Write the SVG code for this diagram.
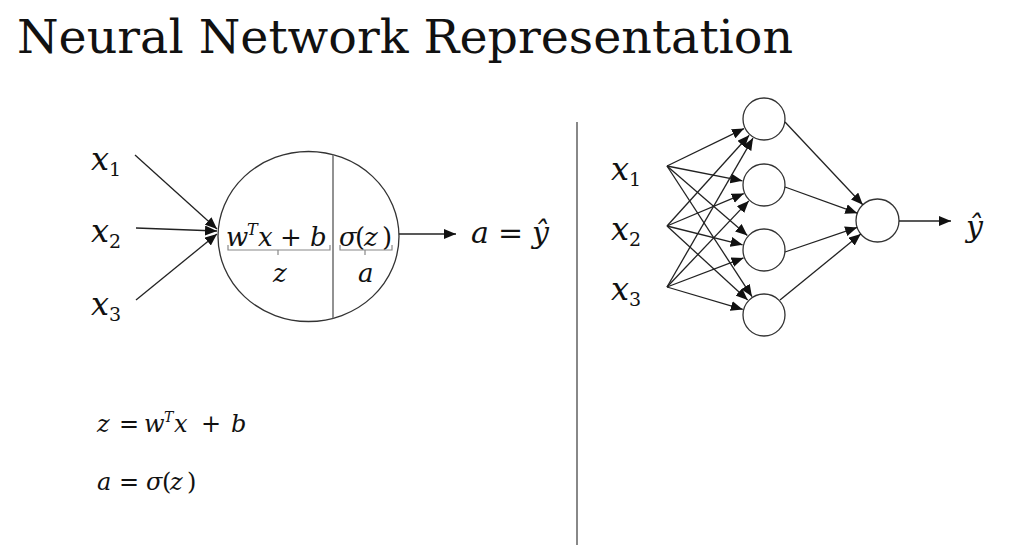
<svg xmlns="http://www.w3.org/2000/svg" width="1024" height="554" viewBox="0 0 1024 554">
<style>
.title{font-family:"DejaVu Serif","Liberation Serif",serif;font-size:47px;fill:#111}
.m{font-family:"DejaVu Serif","Liberation Serif",serif;font-style:italic;fill:#111}
.n{font-family:"DejaVu Serif","Liberation Serif",serif;font-style:normal;fill:#111}
.node{fill:#fff;stroke:#333;stroke-width:1.3}
.edge{stroke:#222;stroke-width:1.3;fill:none}
.brace{stroke:#888;stroke-width:1.2;fill:none}
</style>
<defs>
<marker id="ah" markerUnits="userSpaceOnUse" markerWidth="12" markerHeight="10" refX="12" refY="5" orient="auto">
<path d="M0,0 L12,5 L0,10 z" fill="#111"/>
</marker>
</defs>
<rect width="1024" height="554" fill="#fff"/>
<text class="title" x="17" y="53" textLength="776" lengthAdjust="spacingAndGlyphs">Neural Network Representation</text>

<line x1="577" y1="122" x2="577" y2="545" stroke="#888" stroke-width="2"/>

<g id="left-inputs">
<text class="m" x="91" y="170" font-size="32">x<tspan class="n" font-size="19" dy="6">1</tspan></text>
<text class="m" x="91" y="242" font-size="32">x<tspan class="n" font-size="19" dy="6">2</tspan></text>
<text class="m" x="91" y="315" font-size="32">x<tspan class="n" font-size="19" dy="6">3</tspan></text>
</g>

<g id="neuron">
<ellipse class="node" cx="308.5" cy="236.5" rx="90.5" ry="85"/>
<line x1="333" y1="154.7" x2="333" y2="318.3" stroke="#777" stroke-width="1.6"/>
<text class="m" y="246" font-size="26"><tspan x="226">w</tspan><tspan x="247" dy="-11" font-size="16">T</tspan><tspan x="258" dy="11">x</tspan><tspan class="n" x="280">+</tspan><tspan x="310">b</tspan></text>
<path class="brace" d="M228,245 L228,250 L330,250 L330,245 M278,250 L278,255"/>
<text class="m" x="273" y="282" font-size="26">z</text>
<text class="m" y="246" font-size="26"><tspan x="339">σ</tspan><tspan class="n" x="355">(</tspan><tspan x="364">z</tspan><tspan class="n" x="382">)</tspan></text>
<path class="brace" d="M340,245 L340,250 L392,250 L392,245 M365,250 L365,255"/>
<text class="m" x="358" y="282" font-size="26">a</text>
</g>

<g id="left-output">
<text class="m" y="243" font-size="30"><tspan x="471">a</tspan><tspan class="n" x="498">=</tspan><tspan x="532">ŷ</tspan></text>
</g>

<g id="formulas">
<text class="m" y="432" font-size="24"><tspan x="97">z</tspan><tspan class="n" x="119">=</tspan><tspan x="144">w</tspan><tspan x="164" dy="-10" font-size="14">T</tspan><tspan x="174" dy="10">x</tspan><tspan class="n" x="201">+</tspan><tspan x="231">b</tspan></text>
<text class="m" y="490" font-size="24"><tspan x="97">a</tspan><tspan class="n" x="119">=</tspan><tspan x="146">σ</tspan><tspan class="n" x="162">(</tspan><tspan x="170">z</tspan><tspan class="n" x="187">)</tspan></text>
</g>

<g id="right-inputs">
<text class="m" x="611" y="180" font-size="32">x<tspan class="n" font-size="19" dy="6">1</tspan></text>
<text class="m" x="611" y="240" font-size="32">x<tspan class="n" font-size="19" dy="6">2</tspan></text>
<text class="m" x="611" y="300" font-size="32">x<tspan class="n" font-size="19" dy="6">3</tspan></text>
</g>

<g id="hidden">
<circle id="h1" class="node" cx="764" cy="119" r="21"/>
<circle id="h2" class="node" cx="764" cy="185" r="21"/>
<circle id="h3" class="node" cx="764" cy="250" r="21"/>
<circle id="h4" class="node" cx="764" cy="315" r="21"/>
</g>
<g id="output">
<circle class="node" cx="877.5" cy="220.5" r="21.5"/>
<text class="m" x="966" y="237" font-size="30">ŷ</text>
</g>

<g id="connectors">
<line class="edge" x1="135" y1="155" x2="217" y2="229" marker-end="url(#ah)"/>
<line class="edge" x1="136" y1="228" x2="217" y2="231" marker-end="url(#ah)"/>
<line class="edge" x1="136" y1="300" x2="217" y2="234" marker-end="url(#ah)"/>
<line class="edge" x1="399" y1="234" x2="456" y2="234" marker-end="url(#ah)"/>

<line class="edge" x1="667" y1="166" x2="744" y2="128.6" marker-end="url(#ah)"/>
<line class="edge" x1="667" y1="166" x2="742.4" y2="180.8" marker-end="url(#ah)"/>
<line class="edge" x1="667" y1="166" x2="747.4" y2="235.6" marker-end="url(#ah)"/>
<line class="edge" x1="667" y1="166" x2="752" y2="296.6" marker-end="url(#ah)"/>
<line class="edge" x1="667" y1="226" x2="749.2" y2="135.3" marker-end="url(#ah)"/>
<line class="edge" x1="667" y1="226" x2="743.8" y2="193.6" marker-end="url(#ah)"/>
<line class="edge" x1="667" y1="226" x2="742.6" y2="244.8" marker-end="url(#ah)"/>
<line class="edge" x1="667" y1="226" x2="747.7" y2="300.1" marker-end="url(#ah)"/>
<line class="edge" x1="667" y1="287" x2="753" y2="138.1" marker-end="url(#ah)"/>
<line class="edge" x1="667" y1="287" x2="748.8" y2="200.9" marker-end="url(#ah)"/>
<line class="edge" x1="667" y1="287" x2="743.5" y2="257.9" marker-end="url(#ah)"/>
<line class="edge" x1="667" y1="287" x2="742.8" y2="309.4" marker-end="url(#ah)"/>

<line class="edge" x1="785" y1="122" x2="862.8" y2="204.8" marker-end="url(#ah)"/>
<line class="edge" x1="785" y1="187" x2="857.3" y2="213.2" marker-end="url(#ah)"/>
<line class="edge" x1="785" y1="252" x2="857.1" y2="227.4" marker-end="url(#ah)"/>
<line class="edge" x1="780" y1="300" x2="860.8" y2="234.1" marker-end="url(#ah)"/>
<line class="edge" x1="899" y1="221" x2="951" y2="221" marker-end="url(#ah)"/>
</g>
</svg>
